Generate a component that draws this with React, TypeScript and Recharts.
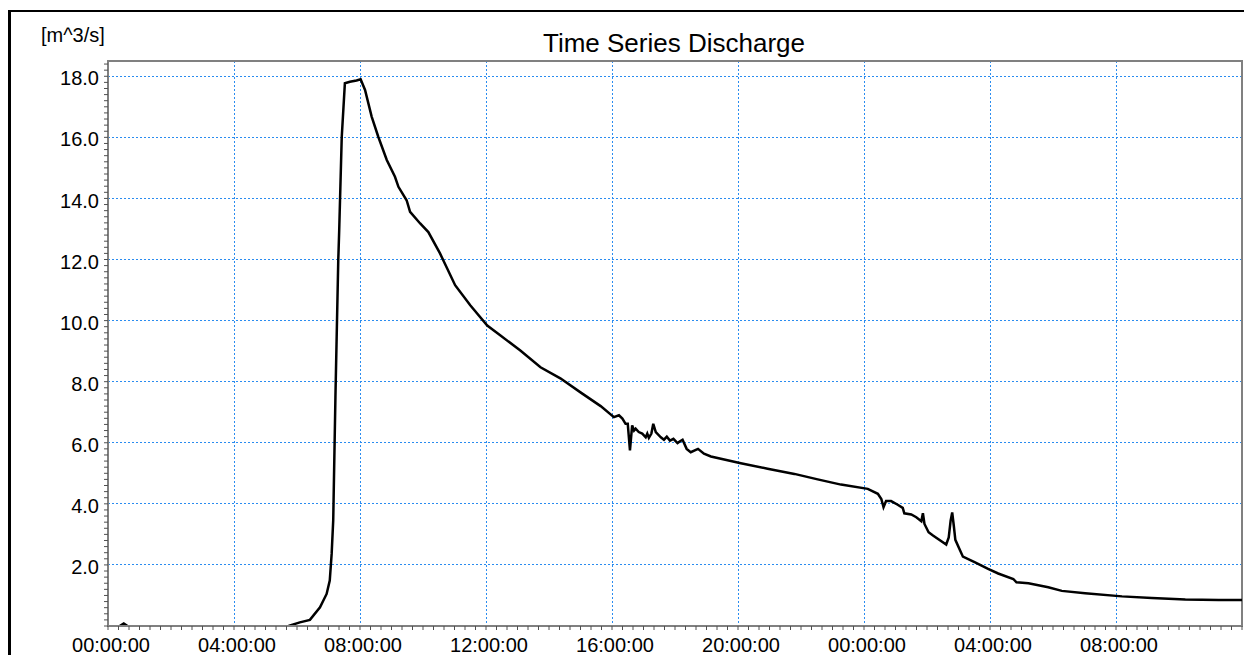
import React from 'react';
import { LineChart, Line, XAxis, YAxis, CartesianGrid, ReferenceArea } from 'recharts';

// time in hours since start, discharge in m^3/s (null = gap in record)
const timeHours = [
    0.37, 0.5, 0.62, 0.7, 5.73, 6.09, 6.41, 6.73, 6.94, 7.04, 7.1, 7.15, 7.22, 7.31, 7.34, 7.42,
    7.52, 7.68, 7.89, 8.02, 8.16, 8.37, 8.58, 8.85, 9.11, 9.22, 9.48, 9.59, 9.91, 10.17, 10.54,
    11.02, 11.5, 12.04, 12.45, 13.09, 13.73, 14.36, 15.0, 15.64, 16.06, 16.22, 16.33, 16.43, 16.5,
    16.57, 16.64, 16.7, 16.75, 16.85, 16.96, 17.07, 17.12, 17.17, 17.25, 17.31, 17.39, 17.55,
    17.65, 17.74, 17.84, 17.95, 18.08, 18.16, 18.24, 18.37, 18.5, 18.73, 18.92, 19.14, 20.09,
    20.94, 21.79, 22.53, 23.27, 24.12, 24.44, 24.55, 24.62, 24.7, 24.86, 25.07, 25.23, 25.28,
    25.5, 25.66, 25.82, 25.87, 25.92, 26.05, 26.19, 26.61, 26.69, 26.75, 26.8, 26.85, 26.9,
    27.03, 27.14, 27.51, 27.94, 28.26, 28.74, 28.84, 29.22, 29.85, 30.28, 31.02, 32.19, 33.14,
    34.2, 35.26, 36.0,
];

const discharge = [
    0.0, 0.08, 0.0, null, 0.0, 0.12, 0.2, 0.61, 1.05, 1.49, 2.36, 3.46, 7.5, 11.98, 12.96, 16.0,
    17.77, 17.82, 17.86, 17.9, 17.55, 16.68, 16.02, 15.26, 14.71, 14.38, 13.94, 13.56, 13.18, 12.9, 12.2,
    11.16, 10.5, 9.84, 9.52, 9.02, 8.47, 8.11, 7.65, 7.2, 6.84, 6.9, 6.79, 6.62, 6.62,
    5.75, 6.57, 6.4, 6.46, 6.35, 6.3, 6.18, 6.3, 6.16, 6.3, 6.62, 6.35, 6.18,
    6.1, 6.2, 6.07, 6.13, 5.99, 6.05, 6.1, 5.8, 5.69, 5.8, 5.64, 5.55, 5.33,
    5.15, 4.98, 4.8, 4.63, 4.49, 4.33, 4.16, 3.89, 4.09, 4.09, 3.97, 3.87, 3.69,
    3.65, 3.56, 3.43, 3.69, 3.34, 3.07, 2.96, 2.67, 2.9, 3.45, 3.72, 3.29, 2.82,
    2.52, 2.27, 2.09, 1.87, 1.72, 1.54, 1.43, 1.4, 1.27, 1.15, 1.07, 0.97, 0.92,
    0.87, 0.85, 0.85,
];

const xMajorHours = [0, 4, 8, 12, 16, 20, 24, 28, 32];
const yMajorValues = [2, 4, 6, 8, 10, 12, 14, 16, 18];

// minor ticks: every 20 minutes on x, every 0.2 on y
const xTicks = Array.from({ length: 109 }, (_, i) => i / 3);
const yTicks = Array.from({ length: 93 }, (_, i) => Math.round(i * 2) / 10);

const data = timeHours.map((t, i) => ({ t, q: discharge[i] }));

const FONT = '"Liberation Sans", Arial, sans-serif';
const GRID = '#2a8cf0';

const fmtTime = (v: number) => {
    const h = Math.round(v);
    if (Math.abs(v - h) > 0.01 || !xMajorHours.includes(h)) return '';
    return `${String(h % 24).padStart(2, '0')}:00:00`;
};

const fmtValue = (v: number) => {
    const r = Math.round(v * 10) / 10;
    return yMajorValues.includes(r) ? r.toFixed(1) : '';
};

export default function App() {
    return (
        <div style={{ position: 'fixed', left: 0, top: 0, width: 1244, height: 655, overflow: 'hidden', background: '#fff' }}>
            {/* outer frame */}
            <div style={{ position: 'absolute', left: 8, top: 10, width: 1300, height: 700, borderLeft: '3px solid #000', borderTop: '2px solid #000' }} />

            <LineChart
                width={1244}
                height={655}
                data={data}
                margin={{ top: 61, right: 2, left: 48, bottom: 0 }}
                style={{ position: 'absolute', left: 0, top: 0 }}
            >
                <CartesianGrid
                    stroke={GRID}
                    strokeDasharray="2 2"
                    shapeRendering="crispEdges"
                    horizontalValues={yMajorValues}
                    verticalValues={xMajorHours.filter(h => h > 0)}
                />
                <ReferenceArea x1={0} x2={36} y1={0} y2={18.5} fill="none" stroke="#808080" strokeWidth={2} ifOverflow="visible" />
                <XAxis
                    dataKey="t"
                    type="number"
                    domain={[0, 36]}
                    ticks={xTicks}
                    interval={0}
                    allowDataOverflow
                    tickFormatter={fmtTime}
                    height={29}
                    tickSize={4}
                    tickMargin={8}
                    axisLine={{ stroke: '#808080', strokeWidth: 2 }}
                    tickLine={{ stroke: '#505050' }}
                    tick={{ fill: '#000', fontSize: 20, fontFamily: FONT, dx: 3 }}
                />
                <YAxis
                    type="number"
                    domain={[0, 18.5]}
                    ticks={yTicks}
                    interval={0}
                    allowDataOverflow
                    tickFormatter={fmtValue}
                    width={60}
                    tickSize={4}
                    tickMargin={5}
                    axisLine={{ stroke: '#808080', strokeWidth: 2 }}
                    tickLine={{ stroke: '#505050' }}
                    tick={{ fill: '#000', fontSize: 20, fontFamily: FONT, dy: 2 }}
                />
                <Line
                    type="linear"
                    dataKey="q"
                    stroke="#000"
                    strokeWidth={2.5}
                    dot={false}
                    activeDot={false}
                    connectNulls={false}
                    isAnimationActive={false}
                />
            </LineChart>

            {/* title and unit */}
            <svg width={1244} height={60} style={{ position: 'absolute', left: 0, top: 0 }}>
                <text x={674} y={52} textAnchor="middle" fontFamily={FONT} fontSize={26} fill="#000">
                    Time Series Discharge
                </text>
                <text x={41} y={42} fontFamily={FONT} fontSize={20} fill="#000">
                    [m^3/s]
                </text>
            </svg>
        </div>
    );
}
